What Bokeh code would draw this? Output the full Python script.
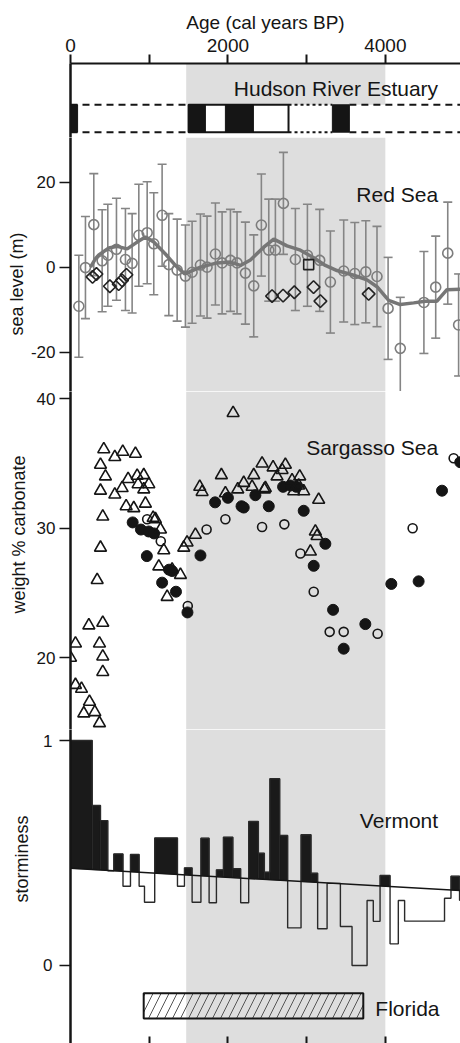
import numpy as np
from bokeh.plotting import figure
from bokeh.layouts import column
from bokeh.models import (Range1d, BoxAnnotation, LinearAxis, FixedTicker, Label, Title,
                          Whisker, TeeHead, ColumnDataSource)
from bokeh.embed import file_html
from bokeh.resources import INLINE

FONT = "Liberation Sans"
INK = "#151515"
BAND = "#dedede"
GREY = "#858585"

# ---------------- data ----------------
age_labelled_ticks = [0, 2000, 4000]
age_plain_ticks = [1000, 3000]
band_start, band_end = 1470, 4000

# Hudson River Estuary
hud_event_start = [0, 1500, 1968, 3327]
hud_event_end = [90, 1714, 2324, 3543]
hud_period_start, hud_period_end = 1500, 2770

# Red Sea sea level (m)
rs_age = [106, 190, 296, 402, 474, 584, 698, 783, 868, 974, 1058, 1164, 1249, 1355, 1460,
          1545, 1651, 1735, 1841, 1926, 2032, 2116, 2222, 2328, 2425, 2519, 2603, 2705, 2857,
          3010, 3166, 3302, 3471, 3612, 3752, 3894, 4035, 4190, 4490, 4640, 4793, 4931]
rs_level = [-9.2, -0.1, 10.0, 1.5, 2.8, 4.2, 1.8, 0.9, 7.5, 8.1, 5.5, 12.2, 0.6, -0.7, -2.1,
            -1.2, 0.5, 0.0, 3.1, 1.0, 1.6, 1.0, -1.4, -4.4, 9.9, 4.0, 4.0, 15.0, 1.8,
            2.8, 1.6, -3.5, -0.9, -1.5, -1.1, -2.2, -9.7, -19.1, -8.3, -4.7, 3.3, -13.6]
rs_err = [12.0, 12.0, 12.0, 12.0, 12.0, 12.0, 12.0, 11.7, 12.0, 12.0, 12.0, 12.0, 12.0, 12.0, 12.0,
          12.0, 12.0, 12.0, 12.0, 12.0, 12.0, 12.0, 12.0, 12.0, 12.0, 12.0, 12.0, 12.0, 12.0,
          12.0, 12.0, 12.0, 12.0, 12.0, 12.0, 11.8, 12.0, 12.0, 12.0, 12.0, 12.0, 12.0]
rs_smooth_age = [254, 318, 360, 487, 593, 720, 847, 952, 1058, 1206, 1333, 1452, 1651, 1862,
                 2032, 2159, 2286, 2455, 2582, 2751, 2921, 3090, 3238, 3386, 3598, 3767, 3894,
                 4042, 4190, 4360, 4508, 4656, 4783, 4955]
rs_smooth_level = [0.0, 2.0, 2.9, 4.5, 4.9, 4.3, 5.9, 7.1, 5.9, 3.1, 0.4, -1.6, 0.0, 1.0,
                   1.2, 0.4, 1.7, 4.7, 6.6, 5.0, 4.0, 2.2, 0.4, -0.8, -1.9, -3.0, -4.6,
                   -7.8, -8.8, -8.4, -8.0, -8.0, -5.3, -5.2]
rs_dia_age = [280, 330, 500, 612, 655, 711, 2561, 2701, 2844, 3088, 3175, 3788]
rs_dia_level = [-2.3, -1.6, -4.5, -4.0, -3.1, -1.8, -6.8, -6.7, -5.9, -4.7, -8.0, -6.3]
rs_sq_age = [3026]
rs_sq_level = [0.6]

# Sargasso Sea weight % carbonate
ss_tri_age = [0, 63, 63, 140, 169, 241, 233, 309, 368, 339, 381, 368, 410, 410, 410, 410, 381,
              381, 423, 444, 563, 563, 656, 664, 707, 732, 804, 825, 847, 859, 931, 931, 952,
              995, 1050, 1079, 1143, 1185, 1122, 1228, 1291, 1397, 1439, 1481, 1587, 1642,
              1672, 1917, 1968, 2066, 2125, 2201, 2307, 2328, 2434, 2476, 2463, 2574, 2624,
              2688, 2730, 2815, 2836, 2899, 2912, 2963, 3048, 3111, 3132, 3153]
ss_tri_wt = [20.0, 21.1, 17.9, 17.6, 15.7, 16.6, 22.5, 15.8, 14.95, 26.0, 28.5, 21.1, 22.7,
             20.1, 18.9, 30.9, 32.9, 34.9, 36.1, 34.0, 32.6, 35.5, 33.1, 35.9, 31.7, 33.8,
             31.55, 35.75, 34.05, 33.4, 34.1, 33.0, 31.9, 33.4, 30.8, 30.7, 29.9, 28.3,
             27.05, 24.7, 26.8, 26.4, 28.5, 28.9, 29.5, 33.2, 32.8, 34.1, 32.7, 38.9, 33.0,
             33.5, 33.2, 34.1, 35.0, 33.1, 33.0, 34.7, 34.0, 34.5, 34.9, 33.7, 32.85, 33.3,
             34.0, 32.85, 28.2, 29.75, 29.4, 32.2]
ss_fill_age = [790, 895, 970, 994, 1062, 1164, 1252, 1291, 1340, 1486, 1651, 1837, 2000, 2173,
               2201, 2349, 2519, 2701, 2794, 2870, 2963, 3090, 3238, 3336, 3471, 3746, 4076,
               4423, 4720, 4952]
ss_fill_wt = [30.45, 29.9, 27.85, 29.75, 29.6, 25.8, 26.8, 26.7, 25.1, 23.5, 27.9, 32.0, 32.35,
              31.7, 31.6, 32.55, 31.7, 33.2, 33.3, 33.2, 31.35, 27.1, 28.8, 23.7, 20.7, 22.6,
              25.7, 25.9, 32.9, 35.1]
ss_open_age = [974, 1147, 1490, 1729, 1968, 2434, 2717, 2921, 3090, 3293, 3471, 3902, 4347, 4868]
ss_open_wt = [30.7, 29.0, 24.0, 29.9, 30.7, 30.1, 30.3, 28.05, 25.1, 22.0, 22.0, 21.85, 30.0, 35.4]

# Vermont storminess (bin edges in years, value per bin)
vt_edges = [0, 276, 381, 474, 550, 667, 762, 872, 940, 1070, 1359, 1448, 1545, 1657, 1761,
            1854, 1943, 2063, 2162, 2264, 2387, 2463, 2533, 2658, 2759, 2929, 3056, 3140,
            3260, 3429, 3577, 3768, 3847, 3933, 4060, 4165, 4245, 4752, 4834, 4943, 5028]
vt_values = [1.0, 0.711, 0.644, 0.421, 0.496, 0.352, 0.493, 0.352, 0.281, 0.567, 0.352, 0.434,
             0.281, 0.566, 0.279, 0.425, 0.570, 0.43, 0.279, 0.64, 0.499, 0.415, 0.83, 0.578,
             0.167, 0.581, 0.41, 0.163, 0.365, 0.173, 0.0, 0.289, 0.196, 0.40, 0.096, 0.289,
             0.197, 0.299, 0.397, 0.29]
vt_trend_age = [0, 5000]
vt_trend_val = [0.432, 0.332]

# Florida interval
fl_start, fl_end = 930, 3720

# ---------------- layout helpers ----------------
xr = Range1d(0, 4955)


def panel(height, y0, y1, **kw):
    opts = dict(min_border_left=70, min_border_right=0, min_border_top=0, min_border_bottom=0)
    opts.update(kw)
    p = figure(width=460, height=height, x_range=xr, y_range=Range1d(y0, y1),
               output_backend="svg", toolbar_location=None,
               x_axis_location=None, y_axis_location=None, **opts)
    p.outline_line_color = None
    p.grid.visible = False
    p.background_fill_color = "white"
    p.border_fill_color = "white"
    return p


def left_axis(p, ticks, overrides=None, standoff=4):
    ax = LinearAxis(ticker=FixedTicker(ticks=ticks, minor_ticks=[]))
    ax.axis_line_color = INK
    ax.axis_line_width = 2.5
    ax.major_tick_line_color = INK
    ax.major_tick_line_width = 1.5
    ax.major_tick_out = 11
    ax.major_tick_in = 0
    ax.minor_tick_line_color = None
    ax.major_label_text_font = FONT
    ax.major_label_text_font_size = "17px"
    ax.major_label_text_color = INK
    ax.major_label_standoff = standoff
    if overrides:
        ax.major_label_overrides = overrides
    p.add_layout(ax, "left")
    return ax


def band(p, **kw):
    p.add_layout(BoxAnnotation(left=band_start, right=band_end, fill_color=BAND, fill_alpha=1,
                               line_color=None, level="underlay", **kw))


def title(p, text, x, y, align="right"):
    p.add_layout(Label(x=x, y=y, text=text, text_font=FONT, text_font_size="21px",
                       text_color=INK, text_align=align, text_baseline="middle"))


def ytitle(p, text, offset, standoff):
    p.add_layout(Title(text=text, align="left", offset=offset, standoff=standoff,
                       text_font=FONT, text_font_size="18px", text_font_style="normal",
                       text_color=INK), "left")


# ---------------- Hudson River Estuary ----------------
p1 = panel(137, 0, 1, min_border_top=63)
hud_lo, hud_hi = 0.072, 0.442
band(p1, bottom=hud_hi)
top = LinearAxis(ticker=FixedTicker(ticks=age_labelled_ticks, minor_ticks=age_plain_ticks),
                 axis_label="Age (cal years BP)")
top.axis_line_color = INK
top.axis_line_width = 2
top.major_tick_line_color = INK
top.major_tick_line_width = 2
top.major_tick_out = 9
top.major_tick_in = 0
top.minor_tick_line_color = INK
top.minor_tick_line_width = 2
top.minor_tick_out = 9
top.minor_tick_in = 0
top.major_label_text_font = FONT
top.major_label_text_font_size = "19px"
top.major_label_text_color = INK
top.major_label_standoff = 3
top.axis_label_text_font = FONT
top.axis_label_text_font_size = "19px"
top.axis_label_text_font_style = "normal"
top.axis_label_text_color = INK
top.axis_label_standoff = 3
p1.add_layout(top, "above")
left_axis(p1, [])

for yy in (hud_lo, hud_hi):
    p1.line([xr.start, hud_period_start], [yy, yy], line_color=INK, line_width=2, line_dash="7 5")
    p1.line([hud_period_end, hud_event_start[3]], [yy, yy], line_color=INK, line_width=2,
            line_dash="3 3")
    p1.line([hud_event_end[3], xr.end], [yy, yy], line_color=INK, line_width=2, line_dash="7 5")
p1.quad(left=[hud_period_start], right=[hud_period_end], bottom=hud_lo, top=hud_hi,
        fill_color="white", line_color=INK, line_width=2)
p1.quad(left=hud_event_start, right=hud_event_end, bottom=hud_lo, top=hud_hi,
        fill_color=INK, line_color=INK, line_width=1)
title(p1, "Hudson River Estuary", 4670, 0.66)

# ---------------- Red Sea ----------------
p2 = panel(254, -29.25, 30.5)
band(p2)
left_axis(p2, [-20, 0, 20], {-20: "-20", 0: "0", 20: "20"})
ytitle(p2, "sea level (m)", 56, 1)
rs_src = ColumnDataSource(dict(age=rs_age, level=rs_level,
                               lo=[v - e for v, e in zip(rs_level, rs_err)],
                               hi=[v + e for v, e in zip(rs_level, rs_err)]))
p2.add_layout(Whisker(source=rs_src, base="age", lower="lo", upper="hi", dimension="height",
                      line_color=GREY, line_width=1.6,
                      upper_head=TeeHead(size=9, line_color=GREY, line_width=1.6),
                      lower_head=TeeHead(size=9, line_color=GREY, line_width=1.6)))
p2.scatter("age", "level", source=rs_src, marker="circle", size=10, fill_color=None,
           line_color="#7d7d7d", line_width=1.6)
p2.line(rs_smooth_age, rs_smooth_level, line_color="#767676", line_width=3.5)
p2.scatter(rs_dia_age, rs_dia_level, marker="square", angle=np.pi / 4, size=9,
           fill_color=None, line_color="#222222", line_width=1.6)
p2.scatter(rs_sq_age, rs_sq_level, marker="square", size=10, fill_color=None,
           line_color="#222222", line_width=1.6)
title(p2, "Red Sea", 4670, 17.1)

# ---------------- Sargasso Sea ----------------
p3 = panel(338, 14.46, 40.56)
band(p3)
left_axis(p3, [20, 30, 40])
ytitle(p3, "weight % carbonate", 116, 10)
p3.scatter(ss_fill_age, ss_fill_wt, marker="circle", size=11, fill_color=INK, line_color=INK)
p3.scatter(ss_open_age, ss_open_wt, marker="circle", size=9, fill_color=None,
           line_color=INK, line_width=1.6)
p3.scatter(ss_tri_age, ss_tri_wt, marker="triangle", size=12, fill_color=None,
           line_color=INK, line_width=1.6)
title(p3, "Sargasso Sea", 4670, 36.2)

# ---------------- Vermont / Florida ----------------
p4 = panel(314, -0.347, 1.049)
band(p4)
left_axis(p4, [0, 1], standoff=7)
ytitle(p4, "storminess", 141, 18)
bot = LinearAxis(ticker=FixedTicker(ticks=[], minor_ticks=age_labelled_ticks[1:] + age_plain_ticks))
bot.axis_line_color = None
bot.major_tick_line_color = None
bot.minor_tick_in = 7
bot.minor_tick_out = 0
bot.minor_tick_line_color = INK
bot.minor_tick_line_width = 2
bot.major_label_standoff = 0
p4.add_layout(bot, "below")

a0, a1 = vt_trend_age
t0, t1 = vt_trend_val


def trend(a):
    return t0 + (t1 - t0) * (a - a0) / (a1 - a0)


xs, ys = [], []
for l, r, v in zip(vt_edges[:-1], vt_edges[1:], vt_values):
    if v > trend((l + r) / 2):
        xs.append([l, l, r, r])
        ys.append([trend(l), v, v, trend(r)])
p4.patches(xs, ys, fill_color="#1a1a1a", line_color="#1a1a1a", line_width=0.5)
p4.step(vt_edges, vt_values + [vt_values[-1]], mode="after", line_color="#2a2a2a", line_width=1.4)
p4.line(vt_trend_age, vt_trend_val, line_color=INK, line_width=1.5)
p4.quad(left=[fl_start], right=[fl_end], bottom=[-0.236], top=[-0.124], fill_alpha=0,
        hatch_pattern="/", hatch_color="#555555", hatch_weight=1, hatch_scale=16,
        line_color=INK, line_width=2)
title(p4, "Vermont", 4670, 0.644)
title(p4, "Florida", 3873, -0.191, align="left")

layout = column(p1, p2, p3, p4, spacing=0)
open("out.html", "w").write(file_html(layout, INLINE))
